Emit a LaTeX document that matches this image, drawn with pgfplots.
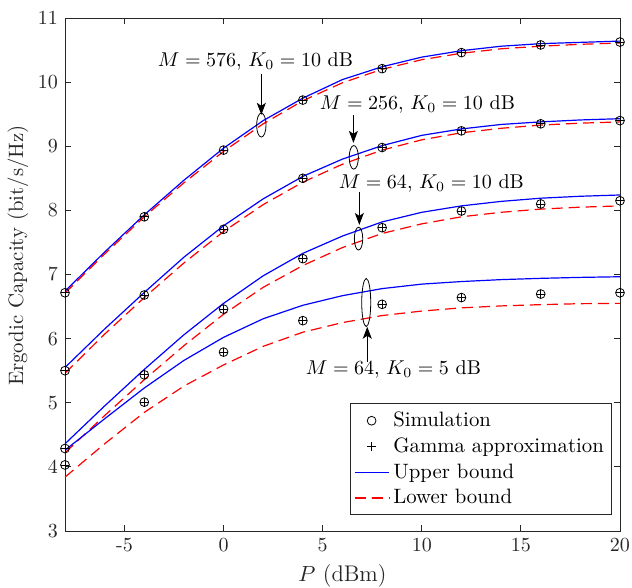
\documentclass[border=0pt]{standalone}
\usepackage{pgfplots}
\pgfplotsset{compat=1.18}
\usetikzlibrary{arrows.meta}
\definecolor{axgray}{rgb}{0.15,0.15,0.15}
\begin{document}
\begin{tikzpicture}
\begin{axis}[
  scale only axis, width=277.5pt, height=256.5pt,
  xmin=-8, xmax=20, ymin=3, ymax=11,
  xtick={-5,0,5,10,15,20}, xticklabels={-5,0,5,10,15,20},
  ytick={3,4,5,6,7,8,9,10,11},
  major tick length=3pt,
  axis line style={axgray, line width=0.4pt},
  tick style={axgray, line width=0.4pt},
  ticklabel style={text=axgray},
  xlabel={$P$ (dBm)}, ylabel={Ergodic Capacity (bit/s/Hz)},
  label style={text=axgray},
  xlabel style={at={([yshift=-22.5pt]axis description cs:0.5,0)}, anchor=center, font=\fontsize{11.3}{13}\selectfont},
  ylabel style={at={([xshift=-23.5pt,yshift=9.5pt]axis description cs:0,0.5)}, anchor=center, font=\fontsize{10.4}{12.5}\selectfont},
  legend style={at={(0.986,0.031)}, anchor=south east, draw=axgray, line width=0.4pt,
    font=\fontsize{10.4}{12.5}\selectfont, row sep=0.1pt, inner xsep=2pt, inner ysep=2pt},
  legend cell align=left,
]
\addlegendimage{only marks, mark=o, mark size=2.2pt, black, line width=0.4pt}
\addlegendentry{Simulation}
\addlegendimage{only marks, mark=+, mark size=2.2pt, black, line width=0.4pt}
\addlegendentry{Gamma approximation}
\addlegendimage{color=blue, line width=0.6pt, solid}
\addlegendentry{Upper bound}
\addlegendimage{color=red, line width=0.6pt, dash pattern=on 5.5pt off 3pt}
\addlegendentry{Lower bound}
% M=576
\addplot[blue, line width=0.6pt, forget plot] coordinates {
(-8,6.74) (-6,7.35) (-4,7.93) (-2,8.47) (0,8.97) (2,9.40) (4,9.75) (6,10.04) (8,10.24) (10,10.39) (12,10.49) (14,10.56) (16,10.60) (18,10.62) (20,10.64)};
\addplot[red, line width=0.6pt, dash pattern=on 5.5pt off 3pt, forget plot] coordinates {
(-8,6.71) (-6,7.32) (-4,7.90) (-2,8.43) (0,8.92) (2,9.35) (4,9.71) (6,9.99) (8,10.20) (10,10.35) (12,10.45) (14,10.52) (16,10.56) (18,10.59) (20,10.61)};
\addplot[only marks, mark=o, mark size=2.2pt, black, line width=0.4pt, forget plot] coordinates {
(-8,6.715) (-4,7.90) (0,8.94) (4,9.72) (8,10.21) (12,10.46) (16,10.58) (20,10.625)};
\addplot[only marks, mark=+, mark size=2.2pt, black, line width=0.4pt, forget plot] coordinates {
(-8,6.715) (-4,7.90) (0,8.94) (4,9.72) (8,10.21) (12,10.46) (16,10.58) (20,10.625)};
% M=256
\addplot[blue, line width=0.6pt, forget plot] coordinates {
(-8,5.55) (-6,6.15) (-4,6.72) (-2,7.27) (0,7.76) (2,8.18) (4,8.53) (6,8.80) (8,9.01) (10,9.17) (12,9.27) (14,9.34) (16,9.38) (18,9.41) (20,9.43)};
\addplot[red, line width=0.6pt, dash pattern=on 5.5pt off 3pt, forget plot] coordinates {
(-8,5.46) (-6,6.07) (-4,6.64) (-2,7.18) (0,7.67) (2,8.09) (4,8.44) (6,8.72) (8,8.94) (10,9.10) (12,9.21) (14,9.28) (16,9.33) (18,9.36) (20,9.38)};
\addplot[only marks, mark=o, mark size=2.2pt, black, line width=0.4pt, forget plot] coordinates {
(-8,5.50) (-4,6.68) (0,7.705) (4,8.50) (8,8.98) (12,9.24) (16,9.35) (20,9.40)};
\addplot[only marks, mark=+, mark size=2.2pt, black, line width=0.4pt, forget plot] coordinates {
(-8,5.50) (-4,6.68) (0,7.705) (4,8.50) (8,8.98) (12,9.24) (16,9.35) (20,9.40)};
% M=64, K0=10
\addplot[blue, line width=0.6pt, forget plot] coordinates {
(-8,4.36) (-6,4.95) (-4,5.52) (-2,6.06) (0,6.55) (2,6.98) (4,7.33) (6,7.60) (8,7.82) (10,7.97) (12,8.07) (14,8.14) (16,8.19) (18,8.22) (20,8.24)};
\addplot[red, line width=0.6pt, dash pattern=on 5.5pt off 3pt, forget plot] coordinates {
(-8,4.22) (-6,4.80) (-4,5.36) (-2,5.89) (0,6.38) (2,6.80) (4,7.14) (6,7.42) (8,7.64) (10,7.79) (12,7.90) (14,7.97) (16,8.02) (18,8.05) (20,8.07)};
\addplot[only marks, mark=o, mark size=2.2pt, black, line width=0.4pt, forget plot] coordinates {
(-8,4.286) (-4,5.435) (0,6.46) (4,7.247) (8,7.73) (12,7.99) (16,8.10) (20,8.15)};
\addplot[only marks, mark=+, mark size=2.2pt, black, line width=0.4pt, forget plot] coordinates {
(-8,4.286) (-4,5.435) (0,6.46) (4,7.247) (8,7.73) (12,7.99) (16,8.10) (20,8.15)};
% M=64, K0=5
\addplot[blue, line width=0.6pt, forget plot] coordinates {
(-8,4.26) (-6,4.75) (-4,5.23) (-2,5.66) (0,6.02) (2,6.31) (4,6.52) (6,6.67) (8,6.78) (10,6.85) (12,6.89) (14,6.92) (16,6.94) (18,6.955) (20,6.965)};
\addplot[red, line width=0.6pt, dash pattern=on 5.5pt off 3pt, forget plot] coordinates {
(-8,3.84) (-6,4.36) (-4,4.85) (-2,5.26) (0,5.59) (2,5.88) (4,6.10) (6,6.25) (8,6.36) (10,6.43) (12,6.48) (14,6.51) (16,6.53) (18,6.545) (20,6.55)};
\addplot[only marks, mark=o, mark size=2.2pt, black, line width=0.4pt, forget plot] coordinates {
(-8,4.03) (-4,5.01) (0,5.79) (4,6.28) (8,6.535) (12,6.64) (16,6.695) (20,6.715)};
\addplot[only marks, mark=+, mark size=2.2pt, black, line width=0.4pt, forget plot] coordinates {
(-8,4.03) (-4,5.01) (0,5.79) (4,6.28) (8,6.535) (12,6.64) (16,6.695) (20,6.715)};
% annotations
\draw[black, line width=0.4pt] (axis cs:1.905,9.33) ellipse [x radius=2.35pt, y radius=6pt];
\draw[black, line width=0.4pt] (axis cs:6.57,8.827) ellipse [x radius=2.3pt, y radius=5.9pt];
\draw[black, line width=0.4pt] (axis cs:6.81,7.559) ellipse [x radius=2.1pt, y radius=5.7pt];
\draw[black, line width=0.4pt] (axis cs:7.197,6.563) ellipse [x radius=2.25pt, y radius=12pt];
\draw[-{Stealth[length=6pt,width=4.5pt,inset=1.5pt]}, line width=0.5pt] (axis cs:1.905,10.13) -- (axis cs:1.905,9.49);
\draw[-{Stealth[length=6pt,width=4.5pt,inset=1.5pt]}, line width=0.5pt] (axis cs:6.55,9.49) -- (axis cs:6.55,9.053);
\draw[-{Stealth[length=6pt,width=4.5pt,inset=1.5pt]}, line width=0.5pt] (axis cs:6.85,8.293) -- (axis cs:6.85,7.773);
\draw[-{Stealth[length=6pt,width=4.5pt,inset=1.5pt]}, line width=0.5pt] (axis cs:7.25,5.64) -- (axis cs:7.25,6.185);
\node[text=black] at (axis cs:1.61,10.32) {$M=576$, $K_0=10$ dB};
\node[text=black] at (axis cs:9.78,9.646) {$M=256$, $K_0=10$ dB};
\node[text=black] at (axis cs:10.48,8.42) {$M=64$, $K_0=10$ dB};
\node[text=black] at (axis cs:8.57,5.525) {$M=64$, $K_0=5$ dB};
\end{axis}
\pgfresetboundingbox
\path[use as bounding box] ([xshift=-32.5pt,yshift=-28.5pt]current axis.south west) rectangle ([xshift=6pt,yshift=9pt]current axis.north east);
\end{tikzpicture}
\end{document}
